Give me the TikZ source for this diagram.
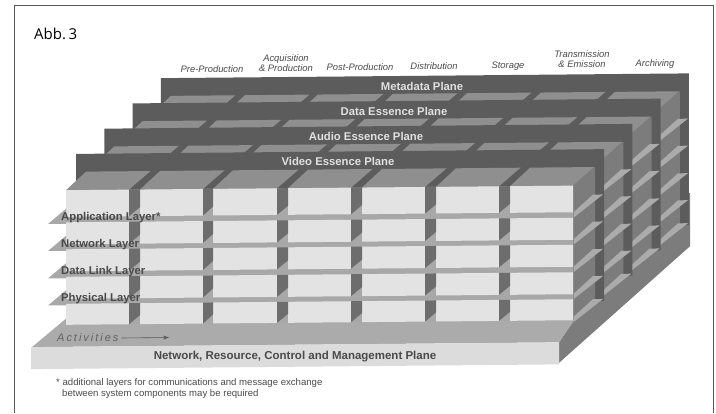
\documentclass[tikz,border=0pt]{standalone}
\usepackage{fontspec}
\setmainfont{Liberation Sans}
\newfontfamily\abbfont{Open Sans}
\usetikzlibrary{arrows.meta}
\definecolor{plate}{HTML}{5C5C5C}
\definecolor{sidegray}{HTML}{7C7C7C}
\definecolor{topgray}{HTML}{8F8F8F}
\definecolor{strip}{HTML}{ABABAB}
\definecolor{barcol}{HTML}{A8A8A8}
\definecolor{cell}{HTML}{E3E3E3}
\definecolor{basefront}{HTML}{DCDCDC}
\definecolor{basetop}{HTML}{ABABAB}
\definecolor{txt}{HTML}{4A4A4A}
\tikzset{
  planelabel/.style={text=white!88!black,font=\bfseries\fontsize{11.3}{13}\selectfont,inner sep=0pt},
  collabel/.style={text=txt,font=\itshape\fontsize{9.4}{10}\selectfont,inner sep=0pt,align=center},
  layerlabel/.style={text=txt,font=\bfseries\fontsize{11.3}{13}\selectfont,inner sep=0pt,anchor=west},
  notelabel/.style={text=txt,font=\fontsize{9.6}{11}\selectfont,inner sep=0pt,anchor=west},
}
\begin{document}
\begin{tikzpicture}[x=1pt,y=-1pt]
\useasboundingbox (0,0) rectangle (716,413);
\fill[white] (0,0) rectangle (716,413);
\draw[line width=1pt,color=black!65] (14,413) -- (14,5) -- (713,5) -- (713,413);
\begin{scope}[yslant=0.009,yshift=0.6pt]
  % base
  \fill[sidegray] (559,348) -- (559,368.5) -- (690,253) -- (690,200) -- (574,200) -- (574,326) -- cycle;
  \fill[basetop] (32,348) -- (559,348) -- (574,326) -- (574,300) -- (100,232) -- (67,319) -- cycle;
  \fill[basefront] (31,348) rectangle (559,370);
  % planes, back to front
  \foreach \k in {3,2,1,0} {
    \begin{scope}[shift={(28.3*\k,-25*\k)}]
      \fill[plate] (76,155.2) rectangle (604,307);
      \fill[sidegray] (66,191.4) -- (573,191.4) -- (595,173) -- (595,308) -- (573,326) -- cycle;
      \foreach \xa/\xb in {66/129,140/203,213/277,288/351,362/425,436/499,510/573}
        \fill[topgray] (\xa,191.4) -- (\xb,191.4) -- (\xb+21.5,173) -- (\xa+20,173) -- cycle;
      \fill[barcol] (66,191.4) rectangle (573,326);
      \foreach \ra/\rb in {191.4/218,223.5/245.5,250.5/272.5,278/300,305/326} {
        \foreach \xa/\xb in {66/129,140/203,213/277,288/351,362/425,436/499,510/573}
          \fill[cell] (\xa,\ra) rectangle (\xb,\rb);
        \foreach \xa/\xb in {129/140,203/213,277/288,351/362,425/436,499/510}
          \fill[sidegray!88!black] (\xa,\ra) -- (\xb,\ra) -- (\xb,\rb-9) -- (\xa,\rb) -- cycle;
      }
      \foreach \h in {223.5,250.5,278,305,328}
        \fill[strip] (573.5,\h) -- (573.5,\h-5.5) -- (593,\h-23) -- (603,\h-23) -- cycle;
    \end{scope}
  }
  % layer slabs, left tips
  \foreach \h in {225,252,279.5,306.5}
    \fill[barcol] (48,\h) -- (66,\h-15) -- (66,\h) -- cycle;
\end{scope}
% plane labels
\node[planelabel] (meta) at (422,86) {Metadata Plane};
\node[planelabel] (data) at (394,111) {Data Essence Plane};
\node[planelabel] (audio) at (366,136) {Audio Essence Plane};
\node[planelabel] (video) at (338,161) {Video Essence Plane};
% column labels
\node[collabel] (c1) at (212,69) {Pre-Production};
\node[collabel] (c2) at (286,63.5) {Acquisition\\\& Production};
\node[collabel] (c3) at (360,67.5) {Post-Production};
\node[collabel] (c4) at (434,66.5) {Distribution};
\node[collabel] (c5) at (508,66) {Storage};
\node[collabel] (c6) at (582,59) {Transmission\\\& Emission};
\node[collabel] (c7) at (655,64) {Archiving};
% layer labels
\node[layerlabel] (l1) at (61,218) {Application Layer*};
\node[layerlabel] (l2) at (61,245) {Network Layer};
\node[layerlabel] (l3) at (61,272) {Data Link Layer};
\node[layerlabel] (l4) at (61,299) {Physical Layer};
% base labels
\node[text=black!62,font=\itshape\fontsize{11}{12}\selectfont\addfontfeature{LetterSpace=18},inner sep=0pt,anchor=west] (act) at (57,338) {Activities};
\coordinate (actend) at (169,337.5);
\draw[-{Stealth[length=6pt,width=4pt]},line width=0.6pt,color=black!65] (act.east) ++(3,0) -- (actend);
\node[text=txt,font=\bfseries\fontsize{11.5}{13}\selectfont,inner sep=0pt] (nrc) at (295,357) {Network, Resource, Control and Management Plane};
% footnote
\node[notelabel] (n1) at (56,383) {* additional layers for communications and message exchange};
\node[notelabel] (n2) at (62,394) {between system components may be required};
\node[font=\abbfont\fontsize{15}{17}\selectfont,inner sep=0pt,anchor=west] (abb) at (34,34) {Abb.\,3};
\end{tikzpicture}
\end{document}
